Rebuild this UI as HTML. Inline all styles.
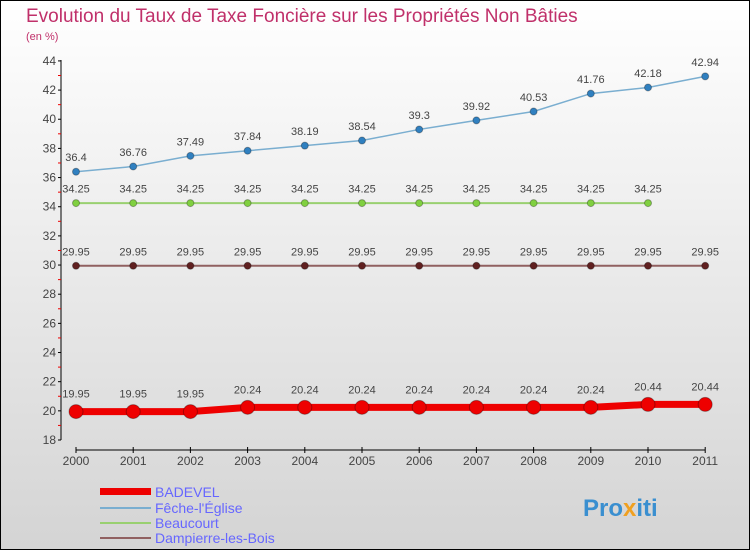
<!DOCTYPE html>
<html><head><meta charset="utf-8"><style>
body{margin:0}
svg text{font-family:"Liberation Sans",sans-serif}
</style></head><body>
<svg id="c" width="750" height="550" xmlns="http://www.w3.org/2000/svg">
<defs><linearGradient id="bg" x1="0" y1="0" x2="0" y2="1"><stop offset="0" stop-color="#ffffff"/><stop offset="1" stop-color="#d4d4d4"/></linearGradient></defs>
<rect x="0.5" y="0.5" width="749" height="549" fill="url(#bg)" stroke="#000"/>
<text x="26" y="22" font-size="19" fill="#c0306a">Evolution du Taux de Taxe Foncière sur les Propriétés Non Bâties</text>
<text x="26" y="40" font-size="11" fill="#c0306a">(en %)</text>
<g id="axes"></g><g id="series"></g>
<g>
<rect x="100" y="488" width="51" height="7" fill="#e00"/>
<text x="155" y="497" font-size="14" fill="#6666ff">BADEVEL</text>
<rect x="100" y="507" width="51" height="2" fill="#7aaed0"/>
<text x="155" y="513" font-size="14" fill="#6666ff">Fêche-l'Église</text>
<rect x="100" y="522" width="51" height="2" fill="#99d070"/>
<text x="155" y="528" font-size="14" fill="#6666ff">Beaucourt</text>
<rect x="100" y="537" width="51" height="2" fill="#906060"/>
<text x="155" y="543" font-size="14" fill="#6666ff">Dampierre-les-Bois</text>
</g>
<text x="583" y="516" font-size="24" font-weight="bold" fill="#3a8fd0">Pro<tspan fill="#f0a020">x</tspan>iti</text>
</svg>
<script>
const years=[2000,2001,2002,2003,2004,2005,2006,2007,2008,2009,2010,2011];
const badevel=[19.95,19.95,19.95,20.24,20.24,20.24,20.24,20.24,20.24,20.24,20.44,20.44];
const feche=[36.4,36.76,37.49,37.84,38.19,38.54,39.3,39.92,40.53,41.76,42.18,42.94];
const beaucourt=[34.25,34.25,34.25,34.25,34.25,34.25,34.25,34.25,34.25,34.25,34.25];
const dampierre=[29.95,29.95,29.95,29.95,29.95,29.95,29.95,29.95,29.95,29.95,29.95,29.95];
const yTicks=[18,20,22,24,26,28,30,32,34,36,38,40,42,44];
const NS="http://www.w3.org/2000/svg";
const X=i=>76+i*57.2, Y=v=>440-(v-18)*14.58;
function mk(p,t,a){const e=document.createElementNS(NS,t);for(const k in a)e.setAttribute(k,a[k]);p.appendChild(e);return e;}
const ax=document.getElementById('axes'),sr=document.getElementById('series');
let l=mk(ax,'line',{x1:61,y1:60,x2:61,y2:440,stroke:'#000'});


yTicks.forEach((v,k)=>{
 mk(ax,'line',{x1:58,x2:61,y1:Y(v),y2:Y(v),stroke:'#000'});
 if(k<yTicks.length-1) mk(ax,'line',{x1:58,x2:61,y1:Y(v+1),y2:Y(v+1),stroke:'#e00'});
 const t=mk(ax,'text',{x:56,y:Y(v)+4,'font-size':12,fill:'#444','text-anchor':'end'});t.textContent=v;
 
 
});
l=mk(ax,'line',{x1:X(0),y1:450,x2:X(11),y2:450,stroke:'#000'});


years.forEach((y,i)=>{
 mk(ax,'line',{x1:X(i),x2:X(i),y1:447,y2:453,stroke:'#000'});
 const t=mk(ax,'text',{x:X(i),y:465,'font-size':12,fill:'#444','text-anchor':'middle'});t.textContent=y;
 
 
});
function draw(name,vals,col,pcol,w,r){
 const g=mk(sr,'g',{});
 
 
 mk(g,'polyline',{points:vals.map((v,i)=>X(i)+','+Y(v)).join(' '),fill:'none',stroke:col,'stroke-width':w});
 vals.forEach((v,i)=>{
  const c=mk(g,'circle',{cx:X(i),cy:Y(v),r:r,fill:pcol,stroke:'rgba(0,0,0,0.3)'});
  
  
  const t=mk(g,'text',{x:X(i),y:Y(v)-(r+7),'font-size':11,fill:'#444','text-anchor':'middle'});t.textContent=v;
  
  
 });
}
draw('dampierre',dampierre,'#906060','#602020',2,3.5);
draw('beaucourt',beaucourt,'#99d070','#80d040',2,3.5);
draw('feche',feche,'#7aaed0','#3080c0',1.5,3.5);
draw('badevel',badevel,'#e00','#e00',7,7);
</script>
</body></html>
